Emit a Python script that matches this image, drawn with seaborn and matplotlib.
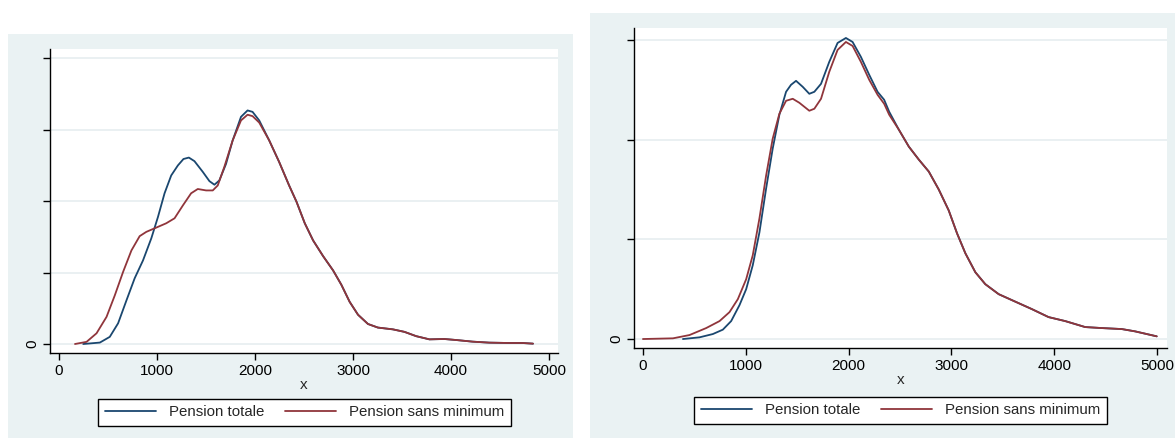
import numpy as np
import pandas as pd
import matplotlib
matplotlib.use("Agg")
import matplotlib.pyplot as plt
from matplotlib.patches import Rectangle
import seaborn as sns

# ---------------- data (density, in units of 1e-4) ----------------
series_names = ["Pension totale", "Pension sans minimum"]

# Left panel
left_tot_head_x = [247, 417, 518, 603, 688, 772, 857, 942, 1010, 1077, 1145, 1213, 1270, 1325,
                   1382, 1467, 1535, 1586, 1636, 1704, 1772, 1857, 1924, 1975, 2043]
left_tot_head_y = [0.0, 0.02, 0.10, 0.29, 0.61, 0.92, 1.17, 1.48, 1.78, 2.11, 2.36, 2.50, 2.59, 2.61,
                   2.56, 2.41, 2.28, 2.23, 2.29, 2.52, 2.85, 3.18, 3.27, 3.25, 3.13]
left_smin_head_x = [163, 281, 383, 485, 569, 654, 739, 823, 891, 993, 1094, 1179, 1264, 1348,
                    1416, 1501, 1569, 1620, 1687, 1772, 1857, 1924, 1975, 2043]
left_smin_head_y = [0.0, 0.03, 0.15, 0.38, 0.68, 1.01, 1.31, 1.51, 1.57, 1.63, 1.69, 1.76, 1.94, 2.11,
                    2.17, 2.15, 2.15, 2.22, 2.48, 2.85, 3.13, 3.21, 3.19, 3.10]
left_tail_x = [2145, 2246, 2348, 2424, 2508, 2593, 2695, 2797, 2881, 2966, 3051, 3153, 3254, 3407,
               3525, 3644, 3780, 3932, 4051, 4220, 4390, 4593, 4729, 4837]
left_tail_y = [2.85, 2.55, 2.22, 1.99, 1.69, 1.45, 1.23, 1.03, 0.83, 0.59, 0.41, 0.28, 0.23, 0.205,
               0.17, 0.11, 0.065, 0.07, 0.056, 0.033, 0.019, 0.014, 0.014, 0.005]

# Right panel
right_tot_head_x = [389, 550, 680, 777, 858, 939, 1004, 1068, 1133, 1198, 1262, 1327, 1392, 1440,
                    1489, 1554, 1618, 1667, 1732, 1812, 1893, 1974, 2039, 2120, 2201, 2282, 2346, 2395]
right_tot_head_y = [0.0, 0.017, 0.05, 0.094, 0.18, 0.34, 0.50, 0.74, 1.07, 1.51, 1.91, 2.25, 2.48, 2.55,
                    2.59, 2.53, 2.46, 2.48, 2.56, 2.78, 2.97, 3.02, 2.98, 2.83, 2.65, 2.48, 2.40, 2.28]
right_smin_head_x = [0, 292, 453, 615, 745, 842, 923, 1004, 1068, 1133, 1198, 1262, 1327, 1392,
                     1457, 1521, 1618, 1667, 1732, 1812, 1893, 1974, 2039, 2120, 2201, 2282, 2346, 2395]
right_smin_head_y = [0.0, 0.007, 0.04, 0.11, 0.18, 0.27, 0.40, 0.60, 0.84, 1.21, 1.64, 2.01, 2.26, 2.39,
                     2.41, 2.37, 2.29, 2.31, 2.41, 2.68, 2.90, 2.98, 2.94, 2.78, 2.60, 2.45, 2.36, 2.25]
right_tail_x = [2489, 2586, 2683, 2780, 2877, 2974, 3055, 3136, 3233, 3330, 3460, 3589, 3783, 3945,
                4107, 4301, 4463, 4657, 4786, 4997]
right_tail_y = [2.10, 1.93, 1.80, 1.68, 1.50, 1.29, 1.06, 0.86, 0.67, 0.55, 0.45, 0.39, 0.30, 0.22,
                0.18, 0.12, 0.11, 0.10, 0.077, 0.027]

x_ticks = [0, 1000, 2000, 3000, 4000, 5000]
left_y_ticks = [0, 1, 2, 3, 4]
right_y_ticks = [0, 1, 2, 3]
y_tick_labels_left = ["0", "", "", "", ""]
y_tick_labels_right = ["0", "", "", ""]


def make_df(tx, ty, sx, sy, kx, ky):
    a = pd.DataFrame({"x": tx + kx, "y": ty + ky, "serie": series_names[0]})
    b = pd.DataFrame({"x": sx + kx, "y": sy + ky, "serie": series_names[1]})
    return pd.concat([a, b], ignore_index=True)


df_left = make_df(left_tot_head_x, left_tot_head_y, left_smin_head_x, left_smin_head_y,
                  left_tail_x, left_tail_y)
df_right = make_df(right_tot_head_x, right_tot_head_y, right_smin_head_x, right_smin_head_y,
                   right_tail_x, right_tail_y)

# ---------------- style ----------------
sns.set_theme(style="white")
plt.rcParams["font.family"] = ["Liberation Sans", "DejaVu Sans"]

W, H = 1175, 438
fig = plt.figure(figsize=(W / 100, H / 100), dpi=100)
fig.patch.set_facecolor("white")

BG = "#eaf2f3"
GRID = "#e6eef0"
palette = {series_names[0]: "#1a476f", series_names[1]: "#90353b"}

# background panels (figure pixel coords)
fig.patches.append(Rectangle((8 / W, 0), (573 - 8) / W, (438 - 34) / H,
                             transform=fig.transFigure, facecolor=BG, edgecolor="none", zorder=-10))
fig.patches.append(Rectangle((590 / W, 0), (1175 - 590) / W, (438 - 13) / H,
                             transform=fig.transFigure, facecolor=BG, edgecolor="none", zorder=-10))


def px_axes(l, t, r, b):
    ax = fig.add_axes([l / W, 1 - b / H, (r - l) / W, (b - t) / H])
    ax.set_zorder(1)
    return ax


axL = px_axes(50, 49, 558, 353)
axR = px_axes(634, 28, 1167, 348)

configs = [
    (axL, df_left, (-92, 5092), (-0.126, 4.13), left_y_ticks, y_tick_labels_left, (304.5 / W, 1 - 412.5 / H)),
    (axR, df_right, (-87, 5097), (-0.09, 3.12), right_y_ticks, y_tick_labels_right, (900.5 / W, 1 - 410.5 / H)),
]

for ax, df, xl, yl, yt, ytl, legpos in configs:
    ax.set_facecolor("white")
    sns.lineplot(data=df, x="x", y="y", hue="serie", palette=palette, ax=ax,
                 estimator=None, sort=False, linewidth=1.3, legend=True)
    ax.set_xlim(*xl)
    ax.set_ylim(*yl)
    ax.set_xticks(x_ticks)
    ax.set_xticklabels([str(v) for v in x_ticks], fontsize=11)
    ax.set_yticks(yt)
    ax.set_yticklabels(ytl, fontsize=11, rotation=90, va="center")
    for v in yt:
        ax.axhline(v, color=GRID, linewidth=1.2, zorder=0)
    ax.set_xlabel("x", fontsize=11, labelpad=0)
    ax.set_ylabel("")
    for s in ["top", "right"]:
        ax.spines[s].set_visible(False)
    for s in ["left", "bottom"]:
        ax.spines[s].set_color("black")
        ax.spines[s].set_linewidth(1.0)
    ax.tick_params(axis="both", which="major", direction="out", length=5, width=1,
                   color="black", labelcolor="black", bottom=True, left=True, pad=3)
    ax.grid(False)
    handles, labels = ax.get_legend_handles_labels()
    ax.get_legend().remove()
    leg = fig.legend(handles, labels, loc="center", bbox_to_anchor=legpos,
                     bbox_transform=fig.transFigure, ncol=2, fontsize=10.8,
                     frameon=True, fancybox=False, shadow=False, framealpha=1,
                     handlelength=3.4, handletextpad=0.85, columnspacing=1.4,
                     borderpad=0.45)
    leg.set_zorder(5)
    leg.get_frame().set_edgecolor("black")
    leg.get_frame().set_linewidth(1.0)
    for ln in leg.get_lines():
        ln.set_linewidth(1.3)

fig.savefig("out.png", dpi=100, facecolor="white")
